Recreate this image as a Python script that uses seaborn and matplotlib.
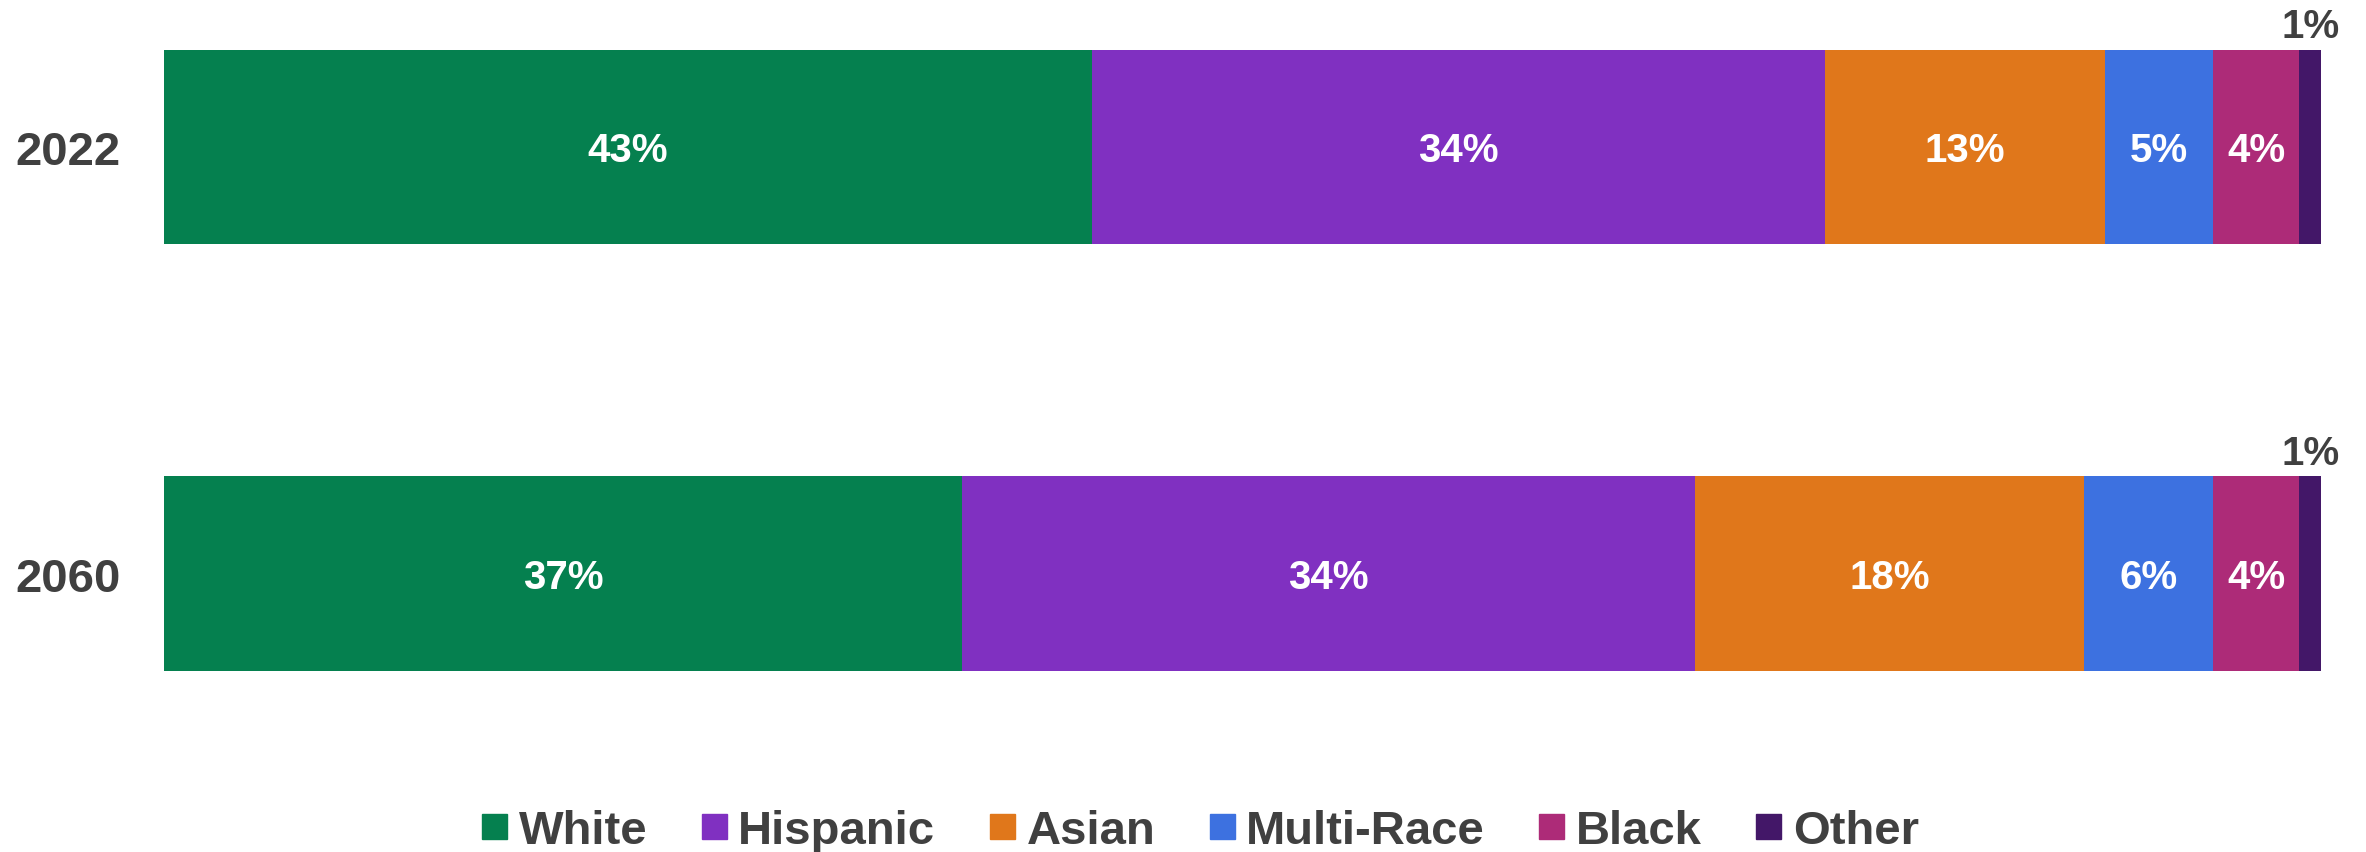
import numpy as np
import pandas as pd
import matplotlib
matplotlib.use("Agg")
import matplotlib.pyplot as plt
import seaborn as sns
from matplotlib.lines import Line2D

# Data
years = ["2022", "2060"]
groups = ["White", "Hispanic", "Asian", "Multi-Race", "Black", "Other"]
share_2022 = [43, 34, 13, 5, 4, 1]
share_2060 = [37, 34, 18, 6, 4, 1]
colors = ["#05804F", "#8030C1", "#E0771B", "#3D71E0", "#AD2B78", "#431768"]

TEXT = "#404040"

sns.set_theme(style="white")
plt.rcParams["font.family"] = ["Liberation Sans", "DejaVu Sans"]

df = pd.DataFrame({"year": years * len(groups),
                   "group": np.repeat(groups, len(years)),
                   "share": [v for pair in zip(share_2022, share_2060) for v in pair]})
df["group"] = pd.Categorical(df["group"], categories=groups, ordered=True)
df = df.sort_values(["year", "group"])
df["cum"] = df.groupby("year")["share"].cumsum()
df["start"] = df["cum"] - df["share"]

fig = plt.figure(figsize=(23.66, 8.53), dpi=100)
ax = fig.add_axes([164 / 2366, 1 - 740 / 853, (2321 - 164) / 2366, 740 / 853])

# stacked bars: draw cumulative totals from the widest down
for g, c in reversed(list(zip(groups, colors))):
    sub = df[df["group"] == g]
    sns.barplot(data=sub, x="cum", y="year", order=years, orient="h",
                color=c, width=0.455, linewidth=0, saturation=1, ax=ax)

# labels (baseline placed so caps are centred)
for _, r in df.iterrows():
    yi = years.index(r["year"])
    mid = r["start"] + r["share"] / 2
    if r["group"] == "Other":
        ax.text(mid, yi - 0.455 / 2 - 0.03, f"{r['share']}%", ha="center", va="baseline",
                color=TEXT, fontsize=29, fontweight="bold")
    else:
        ax.text(mid, yi + 0.033, f"{r['share']}%", ha="center", va="baseline",
                color="white", fontsize=29, fontweight="bold")

ax.set_xlim(0, 100)
ax.set_ylim(1.388, -0.347)
ax.set_xlabel("")
ax.set_ylabel("")
ax.set_xticks([])
ax.tick_params(axis="y", length=0, pad=31)
for lab in ax.get_yticklabels():
    lab.set_fontsize(34)
    lab.set_fontweight("bold")
    lab.set_color(TEXT)
sns.despine(ax=ax, left=True, bottom=True)

handles = [Line2D([], [], marker="s", ls="", color=c, markersize=18) for c in colors]
leg = fig.legend(handles, groups, loc="center", bbox_to_anchor=(1200 / 2366, 1 - 832 / 853),
                 ncol=6, frameon=False, handlelength=0.55, handletextpad=0.25,
                 columnspacing=1.13, prop={"size": 34, "weight": "bold"})
for t in leg.get_texts():
    t.set_color(TEXT)

fig.savefig("out.png", dpi=100, facecolor="white")
